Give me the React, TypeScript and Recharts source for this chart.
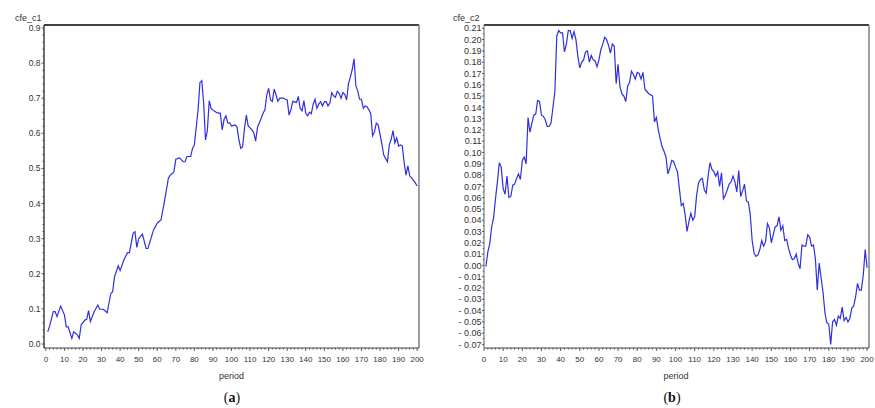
import { LineChart, Line, XAxis, YAxis, ReferenceLine } from "recharts";

// panel (a): cfe_c1
const periodA = [
  1, 2, 4, 5, 6, 8, 10, 11, 12, 14, 15, 17, 18, 19, 21, 22, 23, 24, 26, 28,
  29, 31, 33, 35, 36, 37, 39, 40, 42, 44, 45, 47, 48, 49, 50, 52, 54, 55, 58, 60,
  62, 64, 66, 67, 68, 69, 70, 72, 74, 75, 76, 78, 79, 80, 82, 83, 84, 85, 86, 87,
  88, 89, 90, 92, 94, 95, 96, 97, 98, 99, 100, 102, 103, 104, 105, 106, 107, 108, 109, 111,
  112, 113, 114, 116, 117, 118, 119, 120, 121, 122, 123, 124, 125, 126, 128, 129, 130, 131, 132, 133,
  135, 136, 137, 138, 139, 140, 141, 142, 143, 144, 145, 146, 147, 148, 149, 150, 151, 152, 153, 154,
  155, 156, 157, 158, 159, 160, 161, 162, 163, 164, 165, 166, 167, 168, 169, 170, 171, 172, 173, 174,
  175, 176, 177, 178, 179, 180, 181, 182, 184, 185, 186, 187, 188, 189, 190, 191, 192, 193, 194, 195,
  196, 197, 198, 199, 200,
];
const cfeC1 = [
  0.035, 0.05, 0.092, 0.092, 0.078, 0.108, 0.083, 0.049, 0.049, 0.016, 0.035, 0.026, 0.016, 0.054, 0.068, 0.07, 0.095, 0.064, 0.092, 0.111,
  0.099, 0.099, 0.089, 0.144, 0.149, 0.192, 0.223, 0.209, 0.239, 0.26, 0.26, 0.315, 0.32, 0.275, 0.3, 0.313, 0.272, 0.272, 0.325, 0.344,
  0.353, 0.41, 0.472, 0.481, 0.485, 0.491, 0.526, 0.53, 0.519, 0.519, 0.534, 0.534, 0.557, 0.567, 0.667, 0.745, 0.75, 0.686, 0.581, 0.608,
  0.693, 0.671, 0.666, 0.659, 0.657, 0.61, 0.64, 0.65, 0.63, 0.63, 0.621, 0.624, 0.617, 0.581, 0.557, 0.562, 0.614, 0.652, 0.621, 0.61,
  0.602, 0.578, 0.617, 0.643, 0.657, 0.667, 0.709, 0.728, 0.695, 0.691, 0.726, 0.709, 0.691, 0.7, 0.7, 0.697, 0.695, 0.652, 0.667, 0.691,
  0.688, 0.705, 0.671, 0.664, 0.693, 0.657, 0.65, 0.66, 0.656, 0.683, 0.697, 0.671, 0.683, 0.69, 0.678, 0.69, 0.69, 0.678, 0.686, 0.716,
  0.707, 0.703, 0.72, 0.713, 0.7, 0.716, 0.711, 0.695, 0.741, 0.76, 0.781, 0.812, 0.735, 0.721, 0.697, 0.697, 0.671, 0.678, 0.676, 0.667,
  0.656, 0.593, 0.604, 0.629, 0.624, 0.597, 0.57, 0.538, 0.519, 0.567, 0.583, 0.608, 0.573, 0.587, 0.564, 0.567, 0.564, 0.517, 0.481, 0.507,
  0.479, 0.473, 0.466, 0.459, 0.45,
];

// panel (b): cfe_c2, one value per period 1..200
const periodB = Array.from({ length: 200 }, (_, i) => i + 1);
const cfeC2 = [
  -0.001, 0.012, 0.019, 0.034, 0.042, 0.059, 0.074, 0.091, 0.087, 0.068,
  0.063, 0.079, 0.06, 0.061, 0.071, 0.072, 0.077, 0.081, 0.076, 0.093,
  0.096, 0.09, 0.131, 0.118, 0.126, 0.133, 0.134, 0.146, 0.145, 0.133,
  0.132, 0.129, 0.123, 0.123, 0.126, 0.14, 0.154, 0.203, 0.208, 0.206,
  0.206, 0.189, 0.196, 0.208, 0.208, 0.201, 0.207, 0.2, 0.185, 0.175,
  0.18, 0.182, 0.189, 0.19, 0.18, 0.186, 0.182, 0.181, 0.176, 0.182,
  0.191, 0.196, 0.202, 0.2, 0.195, 0.188, 0.196, 0.194, 0.161, 0.178,
  0.158, 0.152, 0.15, 0.145, 0.159, 0.162, 0.172, 0.169, 0.165, 0.171,
  0.17, 0.165, 0.171, 0.156, 0.154, 0.152, 0.151, 0.15, 0.127, 0.131,
  0.12, 0.112, 0.105, 0.101, 0.096, 0.081, 0.086, 0.093, 0.092, 0.087,
  0.083, 0.068, 0.053, 0.055, 0.045, 0.03, 0.039, 0.046, 0.04, 0.043,
  0.062, 0.073, 0.076, 0.077, 0.067, 0.064, 0.079, 0.091, 0.085, 0.083,
  0.079, 0.083, 0.07, 0.082, 0.059, 0.062, 0.067, 0.072, 0.074, 0.079,
  0.074, 0.065, 0.084, 0.061, 0.066, 0.072, 0.057, 0.056, 0.045, 0.022,
  0.011, 0.008, 0.009, 0.014, 0.022, 0.017, 0.021, 0.037, 0.033, 0.02,
  0.027, 0.034, 0.035, 0.043, 0.031, 0.035, 0.022, 0.023, 0.015, 0.009,
  0.005, 0.006, 0.01, 0.002, -0.003, 0.018, 0.017, 0.017, 0.027, 0.025,
  0.017, 0.018, 0.006, -0.022, 0.002, -0.011, -0.024, -0.042, -0.051, -0.052,
  -0.07, -0.05, -0.048, -0.053, -0.045, -0.047, -0.037, -0.049, -0.046, -0.05,
  -0.047, -0.038, -0.036, -0.028, -0.016, -0.022, -0.022, -0.009, 0.014, -0.002,
];

// ticks: labelled every 10 periods, small marks every 2
const xTicks = Array.from({ length: 101 }, (_, i) => i * 2);
const yTicksA = Array.from({ length: 46 }, (_, i) => +(i * 0.02).toFixed(2));
const yTicksB = Array.from({ length: 57 }, (_, i) => +(-0.07 + i * 0.005).toFixed(3));

const FONT = "'Liberation Sans', Arial, sans-serif";
const INK = "#333";
const BLUE = "#2f2fe0";

const dataA = periodA.map((p, i) => ({ period: p, v: cfeC1[i] }));
const dataB = periodB.map((p, i) => ({ period: p, v: cfeC2[i] }));

const XTick = ({ x, y, payload }: any) => {
  const v = payload.value;
  const major = v % 10 === 0;
  return (
    <g>
      <line x1={x} x2={x} y1={y} y2={y + (major ? 3 : 1.6)} stroke={INK} strokeWidth={0.8} />
      {major && (
        <text x={x} y={y + 14} textAnchor="middle" fontSize={8} fill={INK} fontFamily={FONT}>
          {v}
        </text>
      )}
    </g>
  );
};

const YTickA = ({ x, y, payload }: any) => {
  const v = payload.value;
  const major = Math.round(v * 50) % 5 === 0;
  return (
    <g>
      <line x1={x - (major ? 2.5 : 1.5)} x2={x} y1={y} y2={y} stroke={INK} strokeWidth={0.8} />
      {major && (
        <text x={x - 3.5} y={y + 3} textAnchor="end" fontSize={8.5} fill={INK} fontFamily={FONT}>
          {v.toFixed(1)}
        </text>
      )}
    </g>
  );
};

const YTickB = ({ x, y, payload }: any) => {
  const v = payload.value;
  const major = Math.round(v * 200) % 2 === 0;
  const label = v < -0.0001 ? "- " + Math.abs(v).toFixed(2) : Math.abs(v).toFixed(2);
  return (
    <g>
      <line x1={x - (major ? 2 : 1.2)} x2={x} y1={y} y2={y} stroke={INK} strokeWidth={0.8} />
      {major && (
        <text x={x - 2.5} y={y + 3.2} textAnchor="end" fontSize={9} fill={INK} fontFamily={FONT}>
          {label}
        </text>
      )}
    </g>
  );
};

type PanelProps = {
  data: { period: number; v: number }[];
  xDomain: [number, number];
  yDomain: [number, number];
  yTicks: number[];
  tick: (p: any) => any;
  width: number;
  margin: { top: number; right: number; bottom: number; left: number };
  leftAxisColor: string;
};

const Panel = ({ data, xDomain, yDomain, yTicks, tick, width, margin, leftAxisColor }: PanelProps) => (
  <LineChart width={width} height={380} data={data} margin={margin}>
    <XAxis
      dataKey="period"
      type="number"
      domain={xDomain}
      allowDataOverflow
      ticks={xTicks}
      interval={0}
      tickSize={0}
      tickMargin={0}
      tickLine={false}
      height={20}
      tick={XTick}
      axisLine={{ stroke: "#444", strokeWidth: 1.2 }}
    />
    <YAxis
      type="number"
      domain={yDomain}
      allowDataOverflow
      ticks={yTicks}
      interval={0}
      tickSize={0}
      tickMargin={0}
      tickLine={false}
      width={30}
      tick={tick}
      axisLine={{ stroke: leftAxisColor, strokeWidth: 1.2 }}
    />
    {/* box: black top edge, grey right edge */}
    <ReferenceLine y={yDomain[1]} stroke="#000" strokeWidth={1.3} ifOverflow="extendDomain" />
    <ReferenceLine x={xDomain[1]} stroke="#888" strokeWidth={1.6} ifOverflow="extendDomain" />
    <Line
      dataKey="v"
      type="linear"
      stroke={BLUE}
      strokeWidth={1.2}
      dot={false}
      isAnimationActive={false}
    />
  </LineChart>
);

export default function App() {
  return (
    <div style={{ position: "absolute", left: 0, top: 0, width: 875, height: 408, background: "#fff" }}>
      <div style={{ position: "absolute", left: 0, top: 0 }}>
        <Panel
          data={dataA}
          xDomain={[-1, 201]}
          yDomain={[-0.0114, 0.9085]}
          yTicks={yTicksA}
          tick={YTickA}
          width={430}
          margin={{ top: 25, right: 11, bottom: 12, left: 14 }}
          leftAxisColor="#111"
        />
      </div>
      <div style={{ position: "absolute", left: 440, top: 0 }}>
        <Panel
          data={dataB}
          xDomain={[0, 201]}
          yDomain={[-0.0732, 0.2129]}
          yTicks={yTicksB}
          tick={YTickB}
          width={435}
          margin={{ top: 25, right: 6, bottom: 12, left: 14 }}
          leftAxisColor="#777"
        />
      </div>
      <svg width={875} height={408} style={{ position: "absolute", left: 0, top: 0, pointerEvents: "none" }}>
        <text x={15} y={21} fontSize={9} fill={INK} fontFamily={FONT}>cfe_c1</text>
        <text x={453} y={21} fontSize={9} fill={INK} fontFamily={FONT}>cfe_c2</text>
        <text x={231.5} y={379} textAnchor="middle" fontSize={9} fill={INK} fontFamily={FONT}>period</text>
        <text x={676} y={379} textAnchor="middle" fontSize={9} fill={INK} fontFamily={FONT}>period</text>
        <text x={232} y={402} textAnchor="middle" fontSize={14} fill="#111" fontFamily="'Liberation Serif', 'DejaVu Serif', serif">
          (<tspan fontWeight="bold">a</tspan>)
        </text>
        <text x={672} y={402} textAnchor="middle" fontSize={14} fill="#111" fontFamily="'Liberation Serif', 'DejaVu Serif', serif">
          (<tspan fontWeight="bold">b</tspan>)
        </text>
      </svg>
    </div>
  );
}
